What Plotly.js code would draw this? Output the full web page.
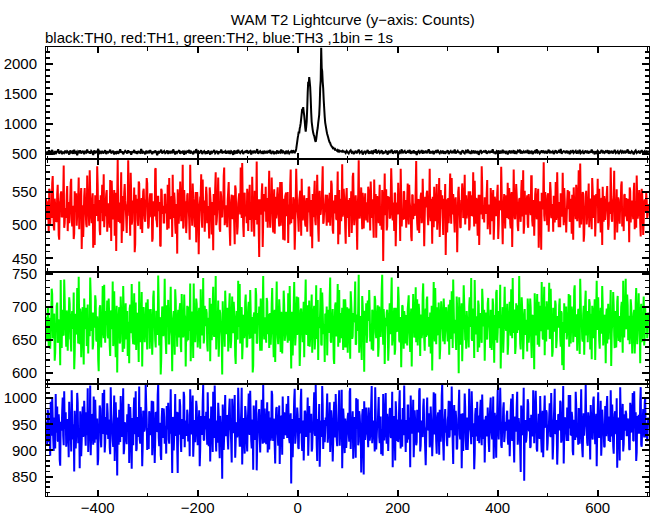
<!DOCTYPE html>
<html>
<head>
<meta charset="utf-8">
<script src="https://cdn.plot.ly/plotly-3.0.1.min.js"></script>
<style>html,body{margin:0;padding:0;background:#fff;}#chart{width:652px;height:515px;}</style>
</head>
<body>
<div id="chart"></div>
<script>
// Time bins (seconds), 1 bin = 1 s.  "Even" arrays hold t = -503, -501, ...; "Odd" arrays hold t = -502, -500, ...
const binStart = -503;

// TH0 (black): background before burst (t = -503 .. -9, every 2 s)
const th0Pre = [
540,507,531,559,498,526,563,517,489,545,512,533,575,503,529,548,494,537,515,552,
509,543,527,486,554,520,538,500,566,518,532,477,541,525,557,505,530,548,493,536,
521,571,514,539,502,547,528,480,556,511,535,523,583,497,534,516,549,506,528,561,
495,542,519,533,568,508,526,552,488,537,513,545,501,530,574,517,539,492,524,550,
532,506,558,519,543,484,531,527,564,510,538,499,547,522,515,580,503,536,526,491,
549,520,537,509,562,528,496,541,514,553,530,475,544,518,533,569,505,527,546,511,
524,556,498,535,519,547,508,573,529,490,542,516,538,560,502,531,521,551,485,534,
516,543,529,565,504,536,522,494,548,511,578,525,539,506,533,557,497,529,544,513,
538,501,555,523,487,546,517,534,562,509,527,548,493,540,519,571,508,532,524,545,
503,535,520,551,499,542,528,482,557,515,536,506,567,526,511,539,550,496,529,541,
518,560,507,530,546,489,537,523,553,510,534,576,502,528,545,514,531,498,549,520,
535,509,542,527,564,500,523,547,492,538,517,555,505,533,521,570,511,540,526,497,
552,516,539,506,529,544,512,558
];
// TH0 burst (t = -7 .. 92, every 1 s)
const burstStart = -7;
const th0Burst = [
531,512,538,545,580,640,700,760,810,870,
840,920,960,1010,1090,1170,1250,1220,1280,1200,
1140,1050,940,870,950,1040,1250,1520,1700,1640,
1780,1700,1610,1420,1190,1030,960,900,850,820,
800,760,720,700,740,810,880,930,1010,1080,
1150,1320,1600,1720,2270,1930,1880,1700,1590,1400,
1260,1120,1020,970,920,870,830,800,770,740,
710,690,680,650,640,620,615,600,612,590,
585,572,580,565,560,556,548,560,545,552,
538,547,532,555,529,540,548,526,544,535
];
// TH0 background after burst (t = 94 .. 702, every 2 s)
const postStart = 94;
const th0Post = [
536,513,548,524,505,541,559,519,532,496,527,551,508,537,570,515,530,544,489,523,
547,510,533,562,501,528,516,553,495,539,521,577,506,534,548,512,529,558,498,526,
518,545,531,487,552,514,537,566,503,529,541,509,555,524,493,538,520,573,511,535,
549,506,527,543,517,564,499,532,521,556,508,540,482,531,547,515,528,561,502,537,
523,551,511,536,575,504,530,519,548,494,533,545,512,567,525,507,539,522,553,500,
541,516,532,558,497,528,546,510,535,523,572,505,529,550,514,538,491,533,557,518,
506,544,526,569,513,531,498,540,522,554,508,536,519,547,483,530,561,515,527,543,
531,557,502,525,539,512,548,520,576,509,534,496,543,528,552,504,537,521,565,511,
547,517,533,490,529,553,507,538,524,560,499,532,514,549,526,571,503,536,519,542,
512,540,527,563,501,534,518,551,493,530,545,509,574,522,537,506,528,556,515,539,
520,548,505,531,568,511,536,524,542,497,533,559,508,527,546,516,581,502,529,544,
538,509,553,521,534,495,540,527,562,514,531,549,503,536,520,567,510,525,543,499,
528,555,513,537,506,546,519,572,525,533,492,541,517,550,530,504,539,563,511,535,
516,542,529,558,500,537,523,548,507,532,566,513,526,545,497,534,552,518,540,509,
549,521,534,573,504,530,515,544,526,490,537,557,512,528,541,506,533,560,519,527,
545,498,536,523,551
];

// TH1 (red)
const th1Even = [
541,508,528,555,500,517,563,534,492,530,505,547,524,478,536,551,513,543,496,526,
511,559,519,503,538,570,498,529,487,532,548,516,540,494,523,556,507,482,544,531,
502,575,527,499,550,512,535,466,529,545,521,589,506,538,485,519,561,528,497,514,
547,490,533,520,568,476,539,509,553,525,461,542,518,534,503,580,522,491,549,537,
510,527,598,515,484,544,506,530,557,471,523,540,499,563,518,532,488,551,526,505,
539,563,495,521,548,512,475,536,526,584,509,497,543,530,468,555,517,529,504,546,
520,493,534,571,513,538,482,525,549,501,532,457,541,519,566,506,528,495,553,536,
488,545,522,507,591,527,499,540,515,531,474,550,524,509,542,577,496,520,537,511,
558,503,529,480,546,518,535,462,527,556,500,519,572,533,490,543,512,524,587,507,
530,497,551,525,469,538,514,545,503,560,522,486,533,548,516,528,594,499,541,513,
525,555,491,537,508,529,573,516,483,544,527,501,539,452,532,519,563,506,547,523,
505,541,528,582,496,517,536,489,554,524,510,547,531,498,565,513,536,478,520,543,
549,515,473,531,560,503,527,542,519,492,585,525,508,538,552,484,529,517,545,501,
534,490,521,557,512,538,465,526,549,507,530,576,495,541,516,528,560,502,523,535,
518,546,504,529,499,567,533,487,521,544,510,537,471,553,526,506,592,520,539,497,
542,511,538,482,527,551,515,579,500,533,523,463,546,512,530,557,494,536,519,548,
507,533,558,521,492,540,518,505,569,528,481,544,513,537,499,526,553,446,531,515,
554,498,525,543,510,586,519,534,491,547,505,529,564,517,476,540,522,508,550,530,
496,537,514,561,526,483,545,509,532,520,597,503,538,488,525,549,511,535,468,543,
527,552,500,531,516,540,472,524,558,506,536,493,521,571,514,530,545,485,519,562,
513,489,541,524,578,502,529,547,508,535,519,459,550,527,497,538,563,511,526,501,
545,520,536,492,551,514,533,580,498,523,541,507,528,470,546,516,559,530,504,537,
523,568,509,529,486,542,519,553,501,537,515,548,479,532,524,588,506,531,547,495,
538,511,528,556,503,544,467,520,534,509,562,526,491,539,518,550,513,583,499,529,
516,545,496,533,522,574,507,538,484,547,528,511,555,502,536,463,524,541,515,550,
531,500,548,519,565,512,532,490,543,527,508,580,521,535,497,544,517,529,556,504,
489,537,524,551,509,528,546,478,533,519,561,506,540,515,593,501,530,548,486,522,
552,514,536,497,540,525,571,511,529,483,547,532,503,555,518,539,470,526,544,508,
526,559,493,531,517,548,505,536,582,512,527,489,542,521,534,560,498,519,545,513,
541,506,529,474,552,523,537,509,564,530,496,540,517,553,502,528,547,485,535,520,
549,511,532
];
const th1Odd = [
517,536,489,552,529,511,574,498,540,523,506,561,485,533,547,512,528,590,503,519,
546,491,535,520,564,508,527,479,551,538,499,516,572,525,543,464,530,509,556,521,
497,541,518,583,526,503,548,532,470,537,514,560,522,492,545,529,506,577,515,534,
553,509,524,496,540,567,512,531,484,549,526,599,505,520,538,473,544,517,562,528,
488,532,550,514,579,501,537,523,459,546,531,508,566,519,494,541,527,555,510,536,
571,516,498,539,524,548,480,530,513,586,506,543,521,535,469,552,528,504,547,518,
532,561,495,527,509,544,576,511,538,487,525,554,502,529,542,515,591,499,533,520,
507,548,526,478,539,519,563,531,497,550,512,535,456,526,544,508,569,521,490,537,
545,518,502,557,533,486,528,547,515,580,506,540,523,494,551,513,532,574,500,526,
519,538,565,492,524,546,509,533,471,555,520,498,541,527,587,511,536,482,549,530,
503,542,527,561,514,490,537,520,552,508,596,525,495,539,516,548,467,534,521,558,
528,496,545,513,536,572,504,530,487,543,519,557,511,532,499,565,524,540,477,547,
514,550,523,501,584,527,509,539,463,535,553,518,490,544,526,570,507,531,516,498,
541,519,558,534,483,522,547,512,567,500,529,538,475,552,517,533,589,505,524,546,
499,531,515,549,526,562,493,537,518,544,508,581,523,486,540,528,513,555,534,472,
556,525,507,541,519,488,573,532,514,545,502,527,598,510,536,521,549,495,530,517,
533,504,552,526,566,511,539,481,524,547,518,536,503,561,529,493,545,512,578,520,
492,544,530,511,537,559,507,522,549,468,534,516,541,527,585,498,523,551,509,538,
527,563,501,535,520,476,546,531,514,556,525,492,539,518,544,503,570,529,511,533,
548,515,534,585,506,528,543,497,531,519,562,508,536,482,553,524,512,540,526,455,
539,522,503,547,530,571,516,534,489,542,525,507,558,520,496,537,549,513,576,528,
510,536,551,498,527,545,513,529,567,502,538,484,546,521,533,589,509,526,542,517,
548,494,531,520,556,506,535,478,543,529,515,561,500,537,523,550,471,532,518,545,
527,564,509,538,495,550,522,584,511,533,546,499,525,541,505,568,530,487,552,519,
536,502,547,528,515,574,498,533,520,556,509,542,466,531,517,549,527,595,506,538,
523,545,490,532,551,511,528,543,504,565,518,536,497,524,548,513,579,500,539,526,
514,553,531,505,540,487,526,557,522,509,546,531,583,496,534,519,550,475,528,543,
501,529,563,516,537,494,552,520,545,508,532,570,512,527,489,541,558,505,536,523,
546,518,500,535,587,509,531,543,478,526,554,515,538,502,529,566,520,491,547,533,
512,540,525,557,504,532,519,549,494,536,575,510,528,544,483,555,521,507,539,524,
537,516
];

// TH2 (green)
const th2Even = [
685,648,701,662,637,676,720,655,690,631,668,707,649,681,612,673,696,659,742,666,
640,688,671,715,652,633,694,677,606,683,660,729,645,670,698,624,687,656,713,667,
699,658,630,681,745,664,692,643,675,718,651,686,620,672,703,639,680,662,734,646,
673,710,653,687,626,695,669,641,724,657,683,601,676,700,648,691,665,732,637,679,
651,694,678,615,704,663,687,644,721,670,635,690,657,739,647,682,610,698,666,684,
707,636,672,697,659,683,628,715,674,650,693,667,748,642,680,619,701,656,688,661,
629,679,711,645,690,666,603,685,658,727,671,640,696,663,706,632,677,654,719,684,
668,702,650,676,736,661,692,623,681,647,713,674,657,699,637,686,668,744,652,690,
697,643,684,660,618,705,671,731,655,689,636,678,710,648,691,666,598,682,663,725,
659,688,633,703,674,649,716,662,694,627,679,657,740,670,645,698,621,687,653,708,
680,641,699,667,726,653,685,611,692,660,718,646,676,701,634,688,669,747,651,683,
646,709,674,638,691,664,729,656,683,617,697,672,644,712,661,693,630,678,703,657,
693,660,721,649,679,607,684,667,738,642,690,658,715,673,639,698,665,686,624,706,
662,687,641,710,655,695,631,676,702,650,733,668,620,681,697,644,722,659,674,689,
674,627,696,661,745,646,683,669,614,703,656,690,640,726,671,653,699,635,680,712,
639,700,667,684,622,708,652,691,677,739,645,664,697,631,686,659,717,672,602,693,
706,656,680,726,648,675,696,634,669,711,653,688,625,701,664,682,749,643,679,657,
671,696,619,684,659,714,642,677,699,636,690,663,731,650,685,609,703,668,694,645,
688,642,707,667,632,698,675,720,654,681,647,712,670,693,626,679,661,736,652,686,
655,716,678,640,692,661,604,687,669,729,644,700,658,683,637,709,674,648,695,666,
700,663,689,628,711,652,681,742,660,676,635,697,667,715,643,690,618,684,706,650,
637,681,656,701,670,744,649,688,623,694,664,677,710,639,683,657,728,671,696,660,
692,651,714,675,638,686,659,703,616,680,722,646,691,668,734,654,679,631,699,673,
664,705,643,690,667,727,653,678,695,629,706,661,684,747,645,672,697,621,687,658,
679,633,697,659,713,646,688,670,606,692,657,720,675,640,702,666,689,651,731,684,
648,690,672,737,654,682,625,699,663,710,638,685,669,703,655,694,612,676,706,661,
701,660,681,640,718,673,693,647,726,664,687,634,696,658,743,671,652,690,628,709,
657,694,668,712,636,679,702,653,684,620,698,667,715,649,681,660,732,642,688,675,
686,645,705,671,694,611,676,723,658,691,639,708,663,685,647,700,672,740,654,683,
668,719,650,687,662,701,630,678,696,656,729,644,690,673,615,705,661,684,642,699,
676,653,692
];
const th2Odd = [
662,697,640,684,671,728,653,689,619,676,702,646,680,664,741,638,693,657,711,672,
695,634,678,705,651,686,667,722,629,690,659,676,746,644,683,661,700,613,687,668,
641,704,674,656,719,683,636,692,669,710,648,677,603,699,660,685,732,653,671,694,
678,657,713,642,690,667,739,650,681,624,702,664,688,645,716,676,632,695,659,706,
688,626,671,698,661,735,655,684,643,707,673,691,617,679,654,723,666,700,647,681,
660,712,684,637,697,669,651,725,677,639,693,658,708,685,598,674,696,662,743,650,
703,670,645,689,731,656,680,694,628,711,667,683,654,699,641,720,676,662,689,610,
648,685,701,664,618,692,679,736,652,676,705,639,690,668,727,657,684,645,702,671,
691,633,667,714,682,650,703,661,689,747,664,678,625,696,673,655,709,686,640,697,
673,699,656,721,638,685,662,708,676,614,694,651,682,735,667,700,643,688,659,719,
639,680,708,652,694,673,601,687,665,729,645,691,676,657,713,634,698,669,684,660,
714,659,690,675,643,706,683,624,696,671,739,654,681,697,632,688,663,725,649,677,
685,646,674,732,660,693,627,701,680,655,716,668,689,611,695,674,647,708,683,742,
658,703,671,640,687,719,664,695,636,678,652,711,685,668,729,642,697,673,617,690,
701,666,684,715,649,680,697,622,673,707,659,735,682,646,691,677,660,712,639,694,
677,631,698,663,724,688,656,679,704,643,689,668,749,651,685,620,702,671,693,657,
646,710,681,697,658,636,693,672,717,662,680,703,640,688,655,727,674,697,614,684,
692,675,640,706,669,745,653,687,628,699,664,690,712,647,679,661,701,637,686,671,
664,697,718,651,683,610,675,694,660,730,684,642,705,670,689,653,719,678,634,698,
711,657,685,671,630,702,667,738,648,691,676,659,707,621,683,696,665,713,644,687,
675,648,704,687,660,724,638,699,681,653,716,669,600,693,672,706,655,733,684,662,
694,670,639,715,683,652,698,676,741,659,686,632,703,667,691,646,710,674,619,688,
653,705,679,663,696,635,713,671,688,650,726,662,694,677,607,685,700,656,731,669,
686,628,692,708,657,682,744,661,695,641,679,703,665,689,636,715,672,650,697,680,
670,713,646,684,699,623,687,659,721,674,692,643,708,681,664,738,653,695,627,701,
709,666,690,652,728,679,633,697,668,704,649,685,672,713,640,691,676,605,688,667,
651,692,720,673,645,701,686,660,733,655,689,671,697,629,710,681,648,702,663,725,
684,647,669,706,690,621,694,676,712,658,740,667,683,637,699,670,704,653,687,615,
698,672,651,689,726,660,680,702,638,694,665,717,649,685,674,708,631,697,681,743,
667,703,685,644,712,676,653,691,630,707,682,660,721,673,695,647,688,716,656,679,
691,664
];

// TH3 (blue)
const th3Even = [
955,912,971,936,890,948,1002,925,963,904,939,984,917,951,871,944,977,928,1013,941,
907,960,938,993,919,898,966,947,860,953,930,1010,914,942,975,889,958,926,995,937,
973,929,897,954,1024,935,968,911,946,997,921,961,884,943,980,906,952,932,1016,915,
944,990,922,959,893,970,938,907,1005,927,955,852,947,978,916,967,934,1019,903,950,
920,969,951,876,983,932,962,910,1001,940,899,964,926,1022,913,957,870,976,936,958,
987,901,943,975,929,956,891,994,945,918,972,937,1027,908,953,882,981,924,963,931,
894,952,991,913,965,934,857,959,928,1008,941,905,973,930,985,897,948,922,1003,957,
939,978,917,949,1017,931,967,888,954,916,995,943,923,977,900,962,939,1025,919,966,
974,911,958,935,879,984,942,1012,924,964,898,950,991,915,966,937,846,955,930,1006,
929,966,902,981,944,914,999,933,970,886,952,925,1020,939,909,974,873,960,921,985,
951,898,976,938,1014,920,959,863,968,932,996,911,948,979,896,957,934,1026,915,953,
912,992,944,902,963,929,1007,918,955,875,980,940,909,986,926,965,892,947,973,930,
968,924,1004,921,951,837,960,937,998,913,945,982,906,962,933,1018,899,957,928,974,
926,961,890,985,934,970,904,947,1011,928,963,880,952,989,919,949,1023,903,958,936,
947,1009,929,953,897,977,942,916,993,925,968,908,940,1015,933,955,866,980,922,961,
905,948,972,917,1019,938,952,884,964,929,1000,943,910,975,946,858,967,931,994,920,
982,935,906,961,928,991,914,957,939,1021,902,949,976,926,963,893,941,1008,919,954,
934,970,899,946,981,924,1012,937,958,881,973,945,916,988,930,959,907,966,1024,940,
958,915,986,932,868,965,943,997,923,954,910,978,937,1014,898,950,928,983,946,903,
923,1001,940,971,913,956,889,962,934,1009,917,948,973,892,960,936,1026,911,952,979,
945,908,966,925,994,939,955,874,987,929,960,904,942,1016,921,970,935,899,957,983,
901,963,931,1018,947,912,974,936,864,968,927,993,950,914,978,940,1007,922,959,932,
966,927,953,897,985,942,921,1003,933,960,886,971,938,957,1020,910,944,980,916,948,
938,976,911,959,930,999,918,954,877,965,941,1012,926,947,903,986,931,963,842,958,
919,957,990,937,905,968,934,1015,914,951,975,898,944,929,1004,921,962,887,973,946,
977,900,949,966,928,1010,943,909,982,932,958,873,969,940,995,915,953,1023,926,961,
935,982,918,945,1006,930,964,891,957,920,987,943,911,974,936,1017,904,951,928,966,
956,915,973,940,883,961,927,996,948,912,970,937,1011,924,959,890,978,942,906,985,
927,1004,934,965,916,952,988,908,944,975,931,867,963,947,1021,920,955,898,969,938,
970,929,957,903,991,936,949,918,1013,942,880,966,932,958,994,911,945,979,925,1002,
948,917,963
];
const th3Odd = [
941,978,916,952,993,928,961,899,947,1008,934,919,969,882,955,938,1001,910,946,973,
924,957,887,962,939,1015,921,950,976,904,943,991,930,866,958,917,984,936,965,909,
953,1019,926,944,891,969,937,1003,915,960,929,872,951,986,922,947,1010,933,896,964,
930,971,942,906,1021,948,918,957,880,992,935,963,911,945,1004,926,968,893,954,939,
912,946,989,923,958,865,942,977,931,1013,903,956,937,921,983,948,907,971,940,1026,
959,927,903,966,944,995,918,952,876,973,936,1007,925,949,891,962,934,980,913,947,
985,940,921,956,1017,931,964,900,948,928,974,857,943,998,919,960,937,1012,906,952,
928,967,949,889,976,936,1005,915,958,942,983,910,951,870,966,930,994,921,955,940,
943,1011,908,961,932,978,897,946,1024,926,957,915,969,885,949,935,988,901,964,929,
967,922,954,999,938,877,962,940,1006,917,953,934,981,909,945,1020,928,960,894,972,
918,950,1009,930,965,904,947,986,920,958,862,939,971,926,952,997,913,944,980,935,
953,896,975,942,919,1014,937,961,908,948,983,929,955,874,966,940,1003,922,957,931,
989,934,956,914,971,943,887,959,1018,925,947,968,903,937,995,919,954,881,976,945,
937,1001,923,950,966,898,942,979,932,1025,911,960,944,869,957,926,987,938,916,963,
974,915,946,992,928,957,879,970,939,1008,921,953,984,909,941,1016,933,962,895,948,
925,964,937,1012,903,951,975,931,958,886,944,998,917,966,940,911,979,854,957,936,
960,930,982,919,947,1023,936,955,898,972,927,946,1002,914,963,938,890,975,944,1010,
913,957,940,979,926,951,868,966,935,994,918,959,943,1015,904,948,981,929,956,897,
948,986,921,963,1005,932,953,887,977,941,916,968,935,1019,909,957,926,999,938,872,
972,939,960,906,984,945,923,1011,931,955,894,966,942,978,917,1004,948,881,961,934,
920,958,995,928,943,1022,915,961,937,976,902,949,985,930,953,866,971,941,1009,924,
956,901,948,969,935,1013,926,952,893,981,944,918,967,940,997,910,958,933,877,963,
939,982,916,957,1001,930,946,884,972,927,959,1016,921,948,975,905,938,992,928,955,
966,924,953,889,978,943,1008,917,951,936,983,911,962,944,859,957,930,1020,946,915,
931,998,940,962,908,955,927,985,949,1014,903,939,970,922,958,896,976,934,1005,944,
972,915,936,990,926,961,883,951,1018,933,947,906,968,940,992,921,955,875,963,937,
918,953,1006,943,929,974,899,958,935,1012,925,949,981,913,966,938,887,971,950,1026,
944,909,963,932,987,951,921,1003,940,957,870,975,929,946,995,916,960,937,908,969,
985,936,918,958,1015,927,952,894,970,942,1000,923,956,881,965,939,989,912,948,976,
929,961,945,901,983,935,1010,919,950,973,896,944,968,932,1021,907,957,938,990,925,
953,940
];

const seriesNames = ['TH0','TH1','TH2','TH3'];
const seriesColors = ['#000000','#ff0000','#00ff00','#0000ff'];
const yTickLabels = [[500,1000,1500,2000],[450,500,550],[600,650,700,750],[850,900,950,1000]];
const xTickLabels = [-400,-200,0,200,400,600];

function times(start, step, n){ const t=[]; for(let i=0;i<n;i++) t.push(start+i*step); return t; }
// merge the even-second and odd-second samples into one 1-s series
function merge(even, odd){
  const x=[], y=[];
  for(let i=0;i<even.length;i++){
    x.push(binStart+2*i); y.push(even[i]);
    if(i<odd.length){ x.push(binStart+2*i+1); y.push(odd[i]); }
  }
  return {x:x, y:y};
}

const s0 = {
  x: times(binStart, 2, th0Pre.length).concat(times(burstStart, 1, th0Burst.length)).concat(times(postStart, 2, th0Post.length)),
  y: th0Pre.concat(th0Burst).concat(th0Post)
};
const series = [s0, merge(th1Even, th1Odd), merge(th2Even, th2Odd), merge(th3Even, th3Odd)];

const axisIdx = [4,3,2,1];
const lineWidths = [2,2,2,2];
const traces = series.map((s,i)=>({
  type:'scatter', mode:'lines', name:seriesNames[i],
  x: s.x, y: s.y,
  xaxis: axisIdx[i]===1?'x':'x'+axisIdx[i],
  yaxis: axisIdx[i]===1?'y':'y'+axisIdx[i],
  line:{color:seriesColors[i], width:lineWidths[i], simplify:false},
  hoverinfo:'skip'
}));

const font = {family:'"Liberation Sans", Arial, Helvetica, sans-serif', size:15, color:'#000'};
const xRange = [-503.4, 702.6];
const yRanges = [[409,2281],[430,599.5],[584,754],[813,1027.5]];
const yMinor = [100,10,10,10];
const domains = [[0.75,1],[0.5,0.75],[0.25,0.5],[0,0.25]];

const layout = {
  width:652, height:515,
  margin:{l:46, r:3, t:47, b:19, pad:0},
  paper_bgcolor:'#fff', plot_bgcolor:'#fff',
  showlegend:false,
  font: font,
  title:{text:'WAM T2 Lightcurve (y\u2212axis: Counts)', x:0.541, xanchor:'center', y:0.962, yanchor:'middle', font:font},
  annotations:[{text:'black:TH0, red:TH1, green:TH2, blue:TH3 ,1bin = 1s', xref:'paper', yref:'paper', x:0, xanchor:'left', xshift:-3, y:1.022, yanchor:'middle', showarrow:false, font:font}]
};

for(let i=0;i<4;i++){
  const a = axisIdx[i];
  const xn = a===1?'xaxis':'xaxis'+a;
  const yn = a===1?'yaxis':'yaxis'+a;
  layout[xn] = {
    domain:[0,1], anchor: a===1?'y':'y'+a, range:xRange,
    showline:true, linecolor:'#000', linewidth:1, mirror:'allticks',
    ticks:'inside', ticklen:6, tickwidth:2, tickcolor:'#000',
    tickmode:'array', tickvals:xTickLabels, ticktext:xTickLabels.map(v=>v<0?'\u2212'+Math.abs(v):String(v)),
    showticklabels: a===1, tickfont:font, ticklabelstandoff:-2,
    minor:{ticks:'inside', dtick:100, tick0:0, ticklen:3.5, tickwidth:1.5, tickcolor:'#000', showgrid:false},
    showgrid:false, zeroline:false, fixedrange:true
  };
  layout[yn] = {
    domain:domains[i], anchor: a===1?'x':'x'+a, range:yRanges[i],
    showline:true, linecolor:'#000', linewidth:1, mirror:'allticks',
    ticks:'inside', ticklen:7, tickwidth:2, tickcolor:'#000',
    tickmode:'array', tickvals:yTickLabels[i], ticktext:yTickLabels[i].map(String),
    tickfont:font, ticklabelstandoff:5,
    minor:{ticks:'inside', dtick:yMinor[i], tick0:0, ticklen:4, tickwidth:1.5, tickcolor:'#000', showgrid:false},
    showgrid:false, zeroline:false, fixedrange:true
  };
}

Plotly.newPlot('chart', traces, layout, {displayModeBar:false, staticPlot:true});
</script>
</body>
</html>
